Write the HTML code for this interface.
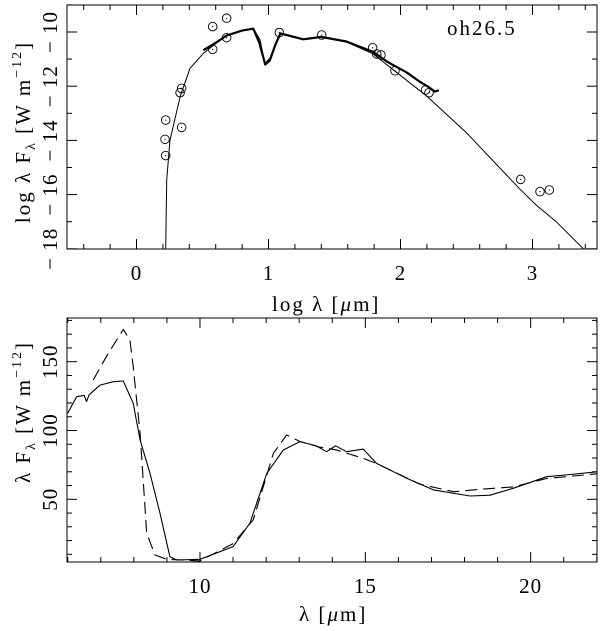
<!DOCTYPE html>
<html><head><meta charset="utf-8"><style>
body{margin:0;background:#fff}
svg{display:block}
text{font-family:"Liberation Serif",serif;fill:#000}
.lab{font-size:21px;letter-spacing:2px}
</style></head><body>
<svg id="chart" width="600" height="631" viewBox="0 0 600 631" xmlns="http://www.w3.org/2000/svg">
<g id="top"></g>
<g id="bot"></g>
<text class="lab" x="447" y="35">oh26.5</text>
<text class="lab" x="272" y="311">log λ [<tspan font-style="italic">μ</tspan>m]</text>
<text class="lab" transform="translate(30,132) rotate(-90)" text-anchor="middle">log λ F<tspan font-size="14" dy="5">λ</tspan><tspan dy="-5"> [W m</tspan><tspan font-size="14" dy="-9">−12</tspan><tspan dy="9">]</tspan></text>
<text class="lab" x="299" y="621">λ [<tspan font-style="italic">μ</tspan>m]</text>
<text class="lab" transform="translate(30,412) rotate(-90)" text-anchor="middle">λ F<tspan font-size="14" dy="5">λ</tspan><tspan dy="-5"> [W m</tspan><tspan font-size="14" dy="-9">−12</tspan><tspan dy="9">]</tspan></text>
</svg>
<script>
// ---- top panel data ----
const modelX=[0.221,0.229,0.254,0.33,0.405,0.506,0.683,0.885,0.936,0.973,1.01,1.087,1.264,1.40,1.59,1.79,1.96,2.2,2.5,2.905,3.03,3.18,3.385];
const modelY=[-18.0,-15.46,-13.99,-12.39,-11.34,-10.79,-10.11,-9.86,-10.3,-11.16,-10.97,-10.05,-10.27,-10.2,-10.37,-10.8,-11.45,-12.37,-13.72,-15.8,-16.4,-17.0,-18.0];
const obsX=[0.506,0.6,0.683,0.8,0.885,0.93,0.975,1.01,1.05,1.09,1.264,1.40,1.59,1.79,1.9,2.05,2.15,2.22,2.26,2.29];
const obsY=[-10.67,-10.4,-10.13,-9.95,-9.88,-10.4,-11.2,-11.05,-10.5,-10.05,-10.27,-10.18,-10.35,-10.73,-11.1,-11.5,-11.85,-12.05,-12.2,-12.15];
const photX=[0.221,0.216,0.221,0.342,0.33,0.342,0.577,0.577,0.683,0.683,1.082,1.403,1.789,1.82,1.852,1.958,2.19,2.216,2.91,3.057,3.127];
const photY=[-13.25,-13.96,-14.56,-12.08,-12.24,-13.52,-9.80,-10.64,-9.49,-10.21,-10.02,-10.11,-10.58,-10.81,-10.85,-11.43,-12.14,-12.24,-15.44,-15.89,-15.83];
const topXTicks=[0,1,2,3];
const topYTicks=[-10,-12,-14,-16,-18];
// ---- bottom panel data ----
const solidX=[6.0,6.27,6.5,6.57,6.65,6.98,7.38,7.68,7.78,7.98,8.19,8.49,8.79,9.09,9.3,10.0,11.0,11.51,12.02,12.52,13.02,13.5,13.83,14.1,14.43,14.94,15.34,16.25,17.06,18.17,18.77,19.47,20.48,21.2,22.0];
const solidY=[112.5,124.6,125.5,121,126,133,135.5,136,130.5,119.8,93.1,68.9,39.8,8.3,5.9,6.4,15.6,32.6,68.9,85.8,91.9,89,84.6,88.9,84.6,86.5,76.1,65.3,56.8,52.4,53,58,66.4,68,70];
const dashX=[6.77,7.2,7.68,7.88,7.98,8.19,8.39,8.64,8.99,10.0,11.0,11.61,12.22,12.62,13.02,13.6,14.1,14.94,15.34,16.65,17.67,18.47,19.47,20.48,22.0];
const dashY=[136.7,155,173.5,165.8,146.4,98,25.3,9.5,6.4,5.2,17.8,35,83.4,96.7,92,88,86,79.8,76,61,55.5,57.3,59,65.1,68.5];
const botXTicks=[10,15,20];
const botYTicks=[50,100,150];

const NS="http://www.w3.org/2000/svg";
function mk(parent,tag,attrs){const e=document.createElementNS(NS,tag);for(const k in attrs)e.setAttribute(k,attrs[k]);parent.appendChild(e);return e;}
function axes(g,L,T,R,B,x,y,xmin,xmax,xminor,xlabels,ymin,ymax,yminor,ylabels,fmt){
  const fr=mk(g,'rect',{x:L,y:T,width:R-L,height:B-T,fill:'none',stroke:'#000','stroke-width':1});
  
  
  for(let v=Math.ceil(xmin/xminor)*xminor;v<=xmax+1e-9;v+=xminor){
    const major=xlabels.some(t=>Math.abs(t-v)<1e-6);const len=major?10:5;const px=x(v);
    mk(g,'line',{x1:px,y1:B,x2:px,y2:B-len,stroke:'#000'});
    mk(g,'line',{x1:px,y1:T,x2:px,y2:T+len,stroke:'#000'});
  }
  for(let v=Math.ceil(ymin/yminor)*yminor;v<=ymax+1e-9;v+=yminor){
    const major=ylabels.some(t=>Math.abs(t-v)<1e-6);const len=major?10:5;const py=y(v);
    mk(g,'line',{x1:L,y1:py,x2:L+len,y2:py,stroke:'#000'});
    mk(g,'line',{x1:R,y1:py,x2:R-len,y2:py,stroke:'#000'});
  }
  xlabels.forEach(v=>{const t=mk(g,'text',{x:x(v),y:B+31,'text-anchor':'middle','font-size':21,'letter-spacing':1});t.textContent=String(v);
    
    });
  ylabels.forEach(v=>{const t=mk(g,'text',{transform:`translate(${L-10},${y(v)}) rotate(-90)`,'text-anchor':'middle','font-size':21,'letter-spacing':1});t.textContent=fmt(v);
    
    });
}
function path(g,xs,ys,x,y,attrs,name){
  const d=xs.map((v,i)=>(i?'L':'M')+x(v).toFixed(1)+','+y(ys[i]).toFixed(1)).join('');
  const p=mk(g,'path',Object.assign({d:d,fill:'none',stroke:'#000','stroke-linejoin':'round'},attrs));
  
  
}
// top
const tg=document.getElementById('top');
const tL=67,tR=597,tT=5,tB=249;
const tx=v=>136.5+(v)*132, ty=v=>32+(-10-v)*27.1;
axes(tg,tL,tT,tR,tB,tx,ty,-0.53,3.5,0.2,topXTicks,-18,-9,1,topYTicks,v=>String(v).replace('-','− '));
path(tg,modelX,modelY,tx,ty,{'stroke-width':1},'model-sed-line');
path(tg,obsX,obsY,tx,ty,{'stroke-width':2.2},'observed-spectrum-line');
photX.forEach((v,i)=>{const c=mk(tg,'circle',{cx:tx(v),cy:ty(photY[i]),r:4.3,fill:'none',stroke:'#000','stroke-width':0.9});
  
  
  mk(tg,'circle',{cx:tx(v),cy:ty(photY[i]),r:0.6,fill:'#000'});});
// bottom
const bg=document.getElementById('bot');
const bL=67,bR=597,bT=318,bB=562;
const bx=v=>67.7+(v-6)*33.07, by=v=>499.3-(v-50)*1.376;
axes(bg,bL,bT,bR,bB,bx,by,6,22,1,botXTicks,4.4,181,10,botYTicks,v=>String(v));
path(bg,solidX,solidY,bx,by,{'stroke-width':1.1},'observed-spectrum-solid');
path(bg,dashX,dashY,bx,by,{'stroke-width':1.1,'stroke-dasharray':'12,6'},'model-spectrum-dashed');
</script>
</body></html>
